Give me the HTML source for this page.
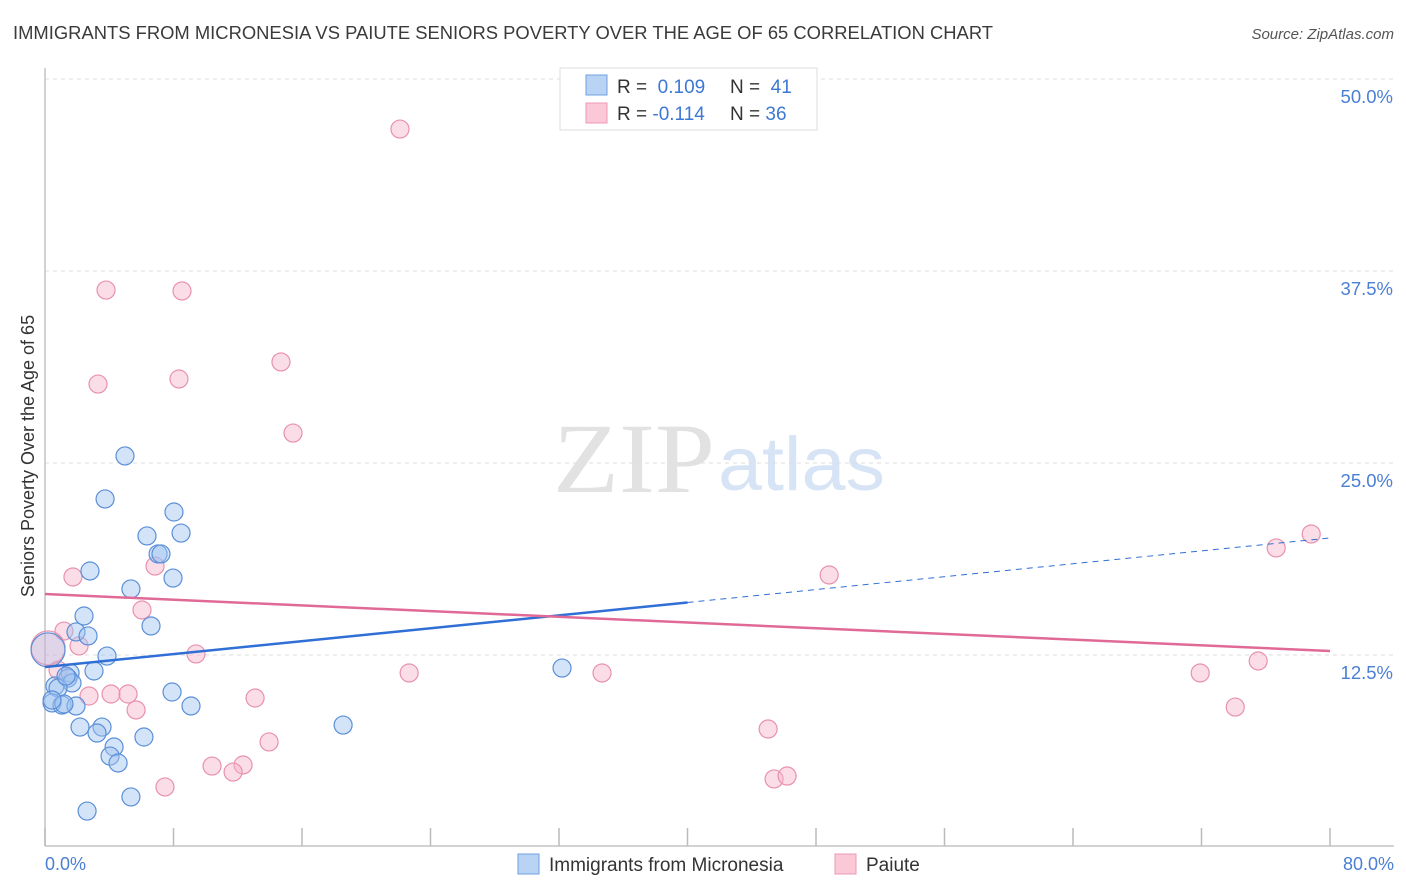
<!DOCTYPE html>
<html><head><meta charset="utf-8"><style>
body{margin:0;background:#fff;font-family:"Liberation Sans",sans-serif;}
svg{display:block}
</style></head><body>
<svg id="chart" width="1406" height="892" xmlns="http://www.w3.org/2000/svg">
<text x="13" y="39" font-size="18" fill="#3a3a3a" textLength="980" lengthAdjust="spacingAndGlyphs">IMMIGRANTS FROM MICRONESIA VS PAIUTE SENIORS POVERTY OVER THE AGE OF 65 CORRELATION CHART</text>
<text x="1394" y="39" font-size="15" fill="#555" font-style="italic" text-anchor="end">Source: ZipAtlas.com</text>
<g>
<text x="553" y="492" font-family="Liberation Serif,serif" font-size="100" fill="#e2e2e2" textLength="162" lengthAdjust="spacingAndGlyphs">ZIP</text>
<text x="718" y="490" font-size="76" fill="#d6e4f5" textLength="167" lengthAdjust="spacingAndGlyphs">atlas</text>
</g>
<g id="grid"></g>
<line x1="45" y1="68" x2="45" y2="846" stroke="#c4c4c4" stroke-width="1.5"/>
<line x1="45" y1="846" x2="1394" y2="846" stroke="#c4c4c4" stroke-width="1.5"/>
<g id="xticks"></g>
<text x="45" y="870" font-size="18" fill="#4a7fd4">0.0%</text>
<text x="1394" y="870" font-size="18" fill="#4a7fd4" text-anchor="end">80.0%</text>
<text transform="translate(34,456) rotate(-90)" font-size="18" fill="#333" text-anchor="middle">Seniors Poverty Over the Age of 65</text>
<g id="pts"></g>
<g id="trends"></g>
<g>
<rect x="560" y="68" width="257" height="62" fill="#fff" stroke="#ddd"/>
<rect x="586" y="75" width="21" height="20" fill="#b9d3f5" stroke="#6f9fe0"/>
<rect x="586" y="103" width="21" height="20" fill="#fbc8d8" stroke="#ec9ab5"/>
<text x="617" y="93" font-size="19" fill="#333">R = <tspan fill="#3d78d4">&#160;0.109</tspan></text>
<text x="730" y="93" font-size="19" fill="#333">N = <tspan fill="#3d78d4">&#160;41</tspan></text>
<text x="617" y="120" font-size="19" fill="#333">R = <tspan fill="#3d78d4">-0.114</tspan></text>
<text x="730" y="120" font-size="19" fill="#333">N = <tspan fill="#3d78d4">36</tspan></text>
</g>
<g>
<rect x="518" y="854" width="21" height="20" fill="#b9d3f5" stroke="#6f9fe0"/>
<text x="549" y="871" font-size="19" fill="#333">Immigrants from Micronesia</text>
<rect x="835" y="854" width="21" height="20" fill="#fbc8d8" stroke="#ec9ab5"/>
<text x="866" y="871" font-size="19" fill="#333">Paiute</text>
</g>
</svg>
<script>
const yTicks=[12.5,25,37.5,50];
const yTickLabels=["12.5%","25.0%","37.5%","50.0%"];
const xTicks=[0,8,16,24,32,40,48,56,64,72,80];
const blueX=[4.98,3.74,8.03,6.35,8.47,7.04,7.22,2.80,7.97,5.35,2.43,6.60,1.93,2.68,3.86,3.05,1.56,1.43,0.62,1.68,0.81,0.44,1.06,1.93,1.18,7.91,9.09,2.18,3.55,3.24,4.30,6.16,4.05,4.55,18.56,5.35,2.62,32.19,0.44,1.31,0.19];
const blueY=[25.46,22.66,21.81,20.25,20.44,19.08,19.08,17.97,17.51,16.80,15.04,14.39,14.00,13.74,12.43,11.46,11.33,11.00,10.48,10.68,10.35,9.38,9.24,9.18,9.31,10.09,9.18,7.81,7.81,7.42,6.51,7.16,5.92,5.47,7.94,3.26,2.34,11.65,9.57,11.13,12.83];
const pinkX=[22.10,3.80,8.53,3.30,8.34,14.69,15.44,1.74,6.85,6.04,1.18,2.12,9.40,0.81,0.19,2.74,4.11,5.17,5.67,13.08,13.95,10.40,12.33,11.71,7.47,22.67,34.68,48.82,45.02,45.39,46.20,71.92,75.53,74.10,76.65,78.83];
const pinkY=[46.74,36.26,36.20,30.14,30.47,31.58,26.95,17.58,18.29,15.43,14.06,13.09,12.57,11.52,12.96,9.83,9.96,9.96,8.92,9.70,6.84,5.27,5.34,4.88,3.91,11.33,11.33,17.71,7.68,4.43,4.62,11.33,12.11,9.11,19.47,20.38];
const blueTrend=[11.72,20.12];
const pinkTrend=[16.47,12.76];
const blueSolidEnd=40;
const NS="http://www.w3.org/2000/svg";
const sx=v=>45+v/80*1285;
const sy=v=>847-v/50*768;
function mk(tag,attrs,parent){const e=document.createElementNS(NS,tag);for(const k in attrs)e.setAttribute(k,attrs[k]);parent.appendChild(e);return e;}
const grid=document.getElementById('grid');
yTicks.forEach((t,i)=>{
 const l=mk('line',{x1:45,x2:1394,y1:sy(t),y2:sy(t),stroke:'#ddd','stroke-dasharray':'4,4'},grid);
 
 
 const tx=mk('text',{x:1393,y:sy(t)+24,'font-size':18.5,fill:'#4a7fd4','text-anchor':'end'},grid);
 tx.textContent=yTickLabels[i];
 
 
});
const xt=document.getElementById('xticks');
xTicks.forEach(t=>{
 const l=mk('line',{x1:sx(t),x2:sx(t),y1:828,y2:846,stroke:'#bbb','stroke-width':1.5},xt);
 
 
});
const pts=document.getElementById('pts');
function draw(xs,ys,fill,stroke,name){
 xs.forEach((x,i)=>{
  const big=(i===xs.length-1&&name==='blue-point')||(name==='pink-point'&&i===14);
  const c=mk('circle',{cx:sx(x),cy:sy(ys[i]),r:big?17:9,fill:big?'rgba(200,180,215,0.35)':fill,stroke:stroke,'stroke-width':1.2},pts);
  
  
 });
}
draw(pinkX,pinkY,'rgba(246,180,202,0.45)','#e891ae','pink-point');
draw(blueX,blueY,'rgba(160,196,240,0.45)','#5b8fd9','blue-point');
const tr=document.getElementById('trends');
const bAt=x=>blueTrend[0]+(blueTrend[1]-blueTrend[0])*x/80;
let l1=mk('line',{x1:sx(0),y1:sy(bAt(0)),x2:sx(blueSolidEnd),y2:sy(bAt(blueSolidEnd)),stroke:'#2f6fd6','stroke-width':2.5},tr);


let l2=mk('line',{x1:sx(blueSolidEnd),y1:sy(bAt(blueSolidEnd)),x2:sx(80),y2:sy(bAt(80)),stroke:'#2f6fd6','stroke-width':1,'stroke-dasharray':'6,5'},tr);


let l3=mk('line',{x1:sx(0),y1:sy(pinkTrend[0]),x2:sx(80),y2:sy(pinkTrend[1]),stroke:'#e06a96','stroke-width':2.5},tr);


</script>
</body></html>
